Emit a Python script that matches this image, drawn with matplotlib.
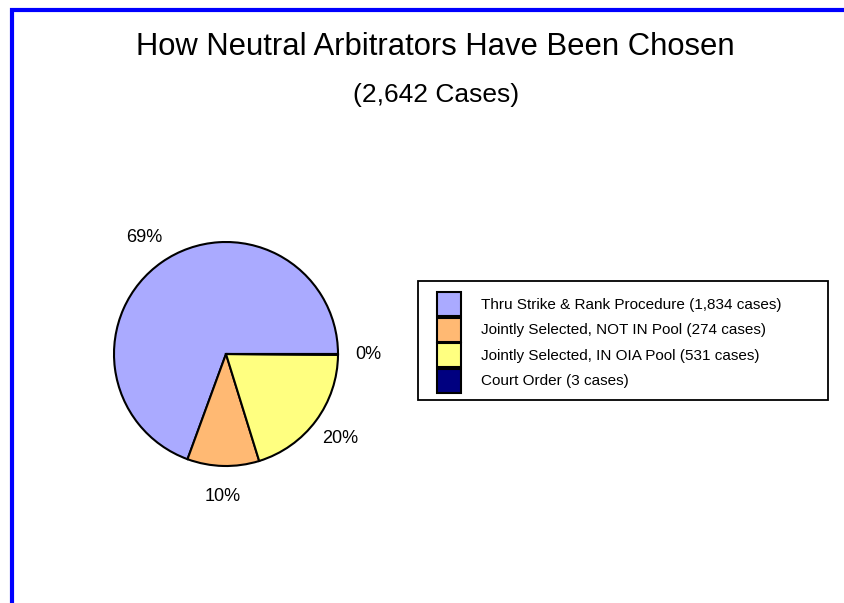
import matplotlib.pyplot as plt
from matplotlib.patches import Patch, Rectangle
from matplotlib.lines import Line2D

plt.rcParams['font.family'] = ['Liberation Sans', 'DejaVu Sans']

categories = ['Thru Strike & Rank Procedure (1,834 cases)',
              'Jointly Selected, NOT IN Pool (274 cases)',
              'Jointly Selected, IN OIA Pool (531 cases)',
              'Court Order (3 cases)']
cases = [1834, 274, 531, 3]
pct_labels = ['69%', '10%', '20%', '0%']
colors = ['#AAAAFF', '#FFB973', '#FFFF80', '#000080']

W, H = 845, 603
fig = plt.figure(figsize=(W / 100, H / 100), dpi=100)

# blue frame on left and top
fig.add_artist(Line2D([12 / W, 12 / W, 1], [0, 1 - 10 / H, 1 - 10 / H],
                      color='#0000FF', lw=3, solid_joinstyle='miter'))

fig.text(435 / W, 1 - 47 / H, 'How Neutral Arbitrators Have Been Chosen',
         ha='center', va='center', fontsize=22.3)
fig.text(436 / W, 1 - 95 / H, '(2,642 Cases)',
         ha='center', va='center', fontsize=19)

# pie axes: center (226, 354) px, radius 112 px
L = 1.45
side = 2 * L * 112
ax = fig.add_axes([(226 - side / 2) / W, (H - 354 - side / 2) / H, side / W, side / H])
wedges, texts = ax.pie(cases, colors=colors, startangle=0, counterclock=True,
                       labels=pct_labels, labeldistance=1.27,
                       wedgeprops=dict(edgecolor='black', linewidth=1.5),
                       textprops=dict(fontsize=13))
for t in texts:
    t.set_ha('center')
    t.set_va('center')
ax.set_xlim(-L, L)
ax.set_ylim(-L, L)
ax.set_aspect('equal')
ax.axis('off')

# legend box
fig.add_artist(Rectangle((418 / W, 1 - 400 / H), 410 / W, 119 / H,
                         transform=fig.transFigure, facecolor='white',
                         edgecolor='black', linewidth=1.3))
handles = [Patch(facecolor=c, edgecolor='black', linewidth=1.5) for c in colors]
leg = fig.legend(handles, categories, loc='upper left',
                 bbox_to_anchor=(437 / W, 1 - 292 / H), fontsize=11,
                 frameon=False, handlelength=1.55, handleheight=2.04,
                 labelspacing=0.1, handletextpad=1.3, borderpad=0,
                 borderaxespad=0)

fig.savefig('out.png', dpi=100)
